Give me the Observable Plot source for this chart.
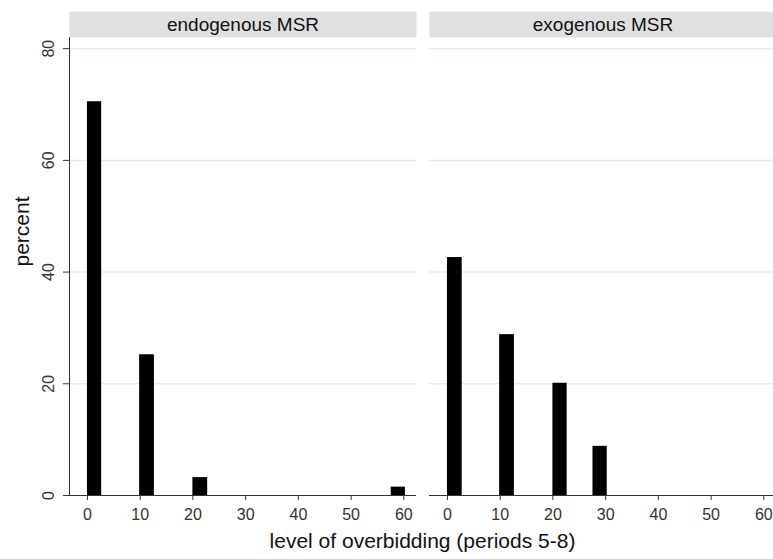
<!DOCTYPE html>
<html>
<head>
<meta charset="utf-8">
<script src="https://cdn.jsdelivr.net/npm/d3@7"></script>
<script src="https://cdn.jsdelivr.net/npm/@observablehq/plot@0.6"></script>
<style>
  html, body { margin: 0; padding: 0; background: #fff; overflow: hidden; }
  #wrap { position: relative; width: 777px; height: 559px; font-family: "Liberation Sans", Arial, sans-serif; }
  #xlabel { position: absolute; left: 68px; width: 709px; top: 529px; text-align: center; font-size: 21px; color: #111; line-height: 24px; }
</style>
</head>
<body>
<div id="wrap"><div id="chart"></div><div id="xlabel"></div></div>
<script>
const panels = ["endogenous MSR", "exogenous MSR"];
const endoStart = [0, 9.9, 20, 57.6];
const endoEnd   = [2.7, 12.7, 22.8, 60.3];
const endoPct   = [70.5, 25.2, 3.2, 1.5];
const exoStart  = [0, 9.9, 20, 27.6];
const exoEnd    = [2.8, 12.7, 22.7, 30.3];
const exoPct    = [42.6, 28.8, 20.1, 8.8];
const xTicks = [0, 10, 20, 30, 40, 50, 60];
const yTicks = [0, 20, 40, 60, 80];
const gridTicks = [20, 40, 60, 80];
const xTitle = "level of overbidding (periods 5-8)";
const yTitle = "percent";

const bars = [
  ...endoStart.map((s, i) => ({panel: panels[0], x1: s, x2: endoEnd[i], pct: endoPct[i]})),
  ...exoStart.map((s, i) => ({panel: panels[1], x1: s, x2: exoEnd[i], pct: exoPct[i]}))
];

const W = 777, H = 559, mT = 37, mB = 64, mL = 68, mR = 0;
const xDomain = [-3.4, 62.4];
const ink = "#333";

const chart = Plot.plot({
  width: W,
  height: H,
  marginTop: mT,
  marginBottom: mB,
  marginLeft: mL,
  marginRight: mR,
  style: {fontFamily: '"Liberation Sans", Arial, sans-serif', background: "#fff"},
  fx: {domain: panels, padding: 0.036, axis: null},
  x: {domain: xDomain, axis: null},
  y: {domain: [0, 82], axis: null},
  marks: [
    Plot.frame({fill: "#e0e0e0", stroke: null, insetTop: -26, insetBottom: H - mT - mB}),
    Plot.text(panels, {fx: d => d, text: d => d, frameAnchor: "top", dy: -13, fontSize: 19, fill: "#111", lineAnchor: "middle"}),
    Plot.gridY(gridTicks, {stroke: "#e3edf0", strokeOpacity: 1, strokeWidth: 1.5}),
    Plot.rectY(bars, {fx: "panel", x1: "x1", x2: "x2", y: "pct", fill: "black"}),
    Plot.ruleY([0], {stroke: ink, strokeWidth: 1}),
    Plot.ruleX([panels[0]], {fx: d => d, x: () => xDomain[0], stroke: ink, strokeWidth: 1}),
    Plot.axisX({ticks: xTicks, tickSize: 5, tickPadding: 8, fontSize: 16, color: ink, label: null}),
    Plot.axisY({ticks: yTicks, tickSize: 6, tickPadding: 10, tickRotate: -90, fontSize: 16, color: ink, label: null}),
    Plot.text([yTitle], {fx: () => panels[0], text: d => d, frameAnchor: "left", dx: -47, rotate: -90, fontSize: 21, fill: "#111", lineAnchor: "middle"})
  ]
});
document.getElementById("chart").appendChild(chart);
document.getElementById("xlabel").textContent = xTitle;
</script>
</body>
</html>
